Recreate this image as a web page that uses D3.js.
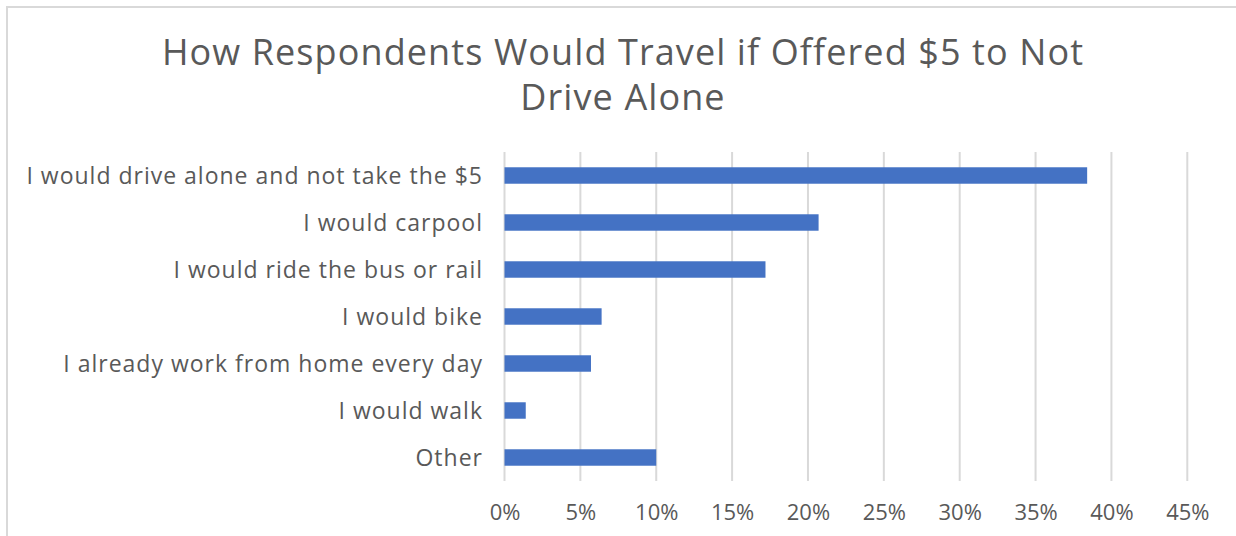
<!DOCTYPE html>
<html>
<head>
<meta charset="utf-8">
<script src="https://cdn.jsdelivr.net/npm/d3@7"></script>
<style>
  html, body { margin: 0; padding: 0; background: #fff; }
  svg { display: block; }
  text { font-family: "Open Sans", "DejaVu Sans", sans-serif; fill: #595959; }
</style>
</head>
<body>
<svg id="chart" width="1236" height="536"></svg>
<script>
// Survey responses: share of respondents per travel choice
const categories = [
  "I would drive alone and not take the $5",
  "I would carpool",
  "I would ride the bus or rail",
  "I would bike",
  "I already work from home every day",
  "I would walk",
  "Other"
];
const shares = [0.384, 0.207, 0.172, 0.064, 0.057, 0.014, 0.100];
const tickValues = [0, 0.05, 0.10, 0.15, 0.20, 0.25, 0.30, 0.35, 0.40, 0.45];
const titleLines = ["How Respondents Would Travel if Offered $5 to Not", "Drive Alone"];

const svg = d3.select("#chart");
const W = 1236, H = 536;
const plot = { left: 504.5, right: 1187.3, top: 152, bottom: 481 };

// chart frame (top and left edges visible)
svg.append("path")
  .attr("d", `M7,${H} L7,7 L${W},7`)
  .attr("fill", "none")
  .attr("stroke", "#d9d9d9")
  .attr("stroke-width", 2);

// title
svg.append("g").selectAll("text")
  .data(titleLines)
  .join("text")
  .attr("x", 623)
  .attr("y", (d, i) => 65 + i * 45)
  .attr("text-anchor", "middle")
  .attr("font-size", 36)
  .style("letter-spacing", "1.1px")
  .text(d => d);

const x = d3.scaleLinear().domain([0, 0.45]).range([plot.left, plot.right]);
const y = d3.scaleBand().domain(categories).range([plot.top, plot.bottom]).paddingInner(0.65).paddingOuter(0.325);

// vertical gridlines
svg.append("g").selectAll("line")
  .data(tickValues)
  .join("line")
  .attr("x1", d => x(d)).attr("x2", d => x(d))
  .attr("y1", plot.top).attr("y2", plot.bottom)
  .attr("stroke", "#d9d9d9")
  .attr("stroke-width", 2);

// bars
svg.append("g").selectAll("rect")
  .data(categories.map((c, i) => ({ c, v: shares[i] })))
  .join("rect")
  .attr("x", x(0))
  .attr("y", d => y(d.c))
  .attr("width", d => x(d.v) - x(0))
  .attr("height", y.bandwidth())
  .attr("fill", "#4472c4");

// x axis labels
const xAxis = d3.axisBottom(x)
  .tickValues(tickValues)
  .tickFormat(d3.format(".0%"))
  .tickSize(0)
  .tickPadding(0);
const gx = svg.append("g").attr("transform", `translate(0,${plot.bottom})`).call(xAxis);
gx.select(".domain").remove();
gx.selectAll("text")
  .attr("dy", null)
  .attr("y", 39)
  .attr("font-size", 22)
  .style("fill", "#595959");

// category labels
const yAxis = d3.axisLeft(y).tickSize(0).tickPadding(0);
const gy = svg.append("g").attr("transform", `translate(483,0)`).call(yAxis);
gy.select(".domain").remove();
gy.selectAll("text")
  .attr("dy", "0.35em")
  .attr("font-size", 23)
  .style("letter-spacing", "1px")
  .style("fill", "#595959");
gx.attr("font-family", null).attr("font-size", null);
gy.attr("font-family", null).attr("font-size", null);
</script>
</body>
</html>
